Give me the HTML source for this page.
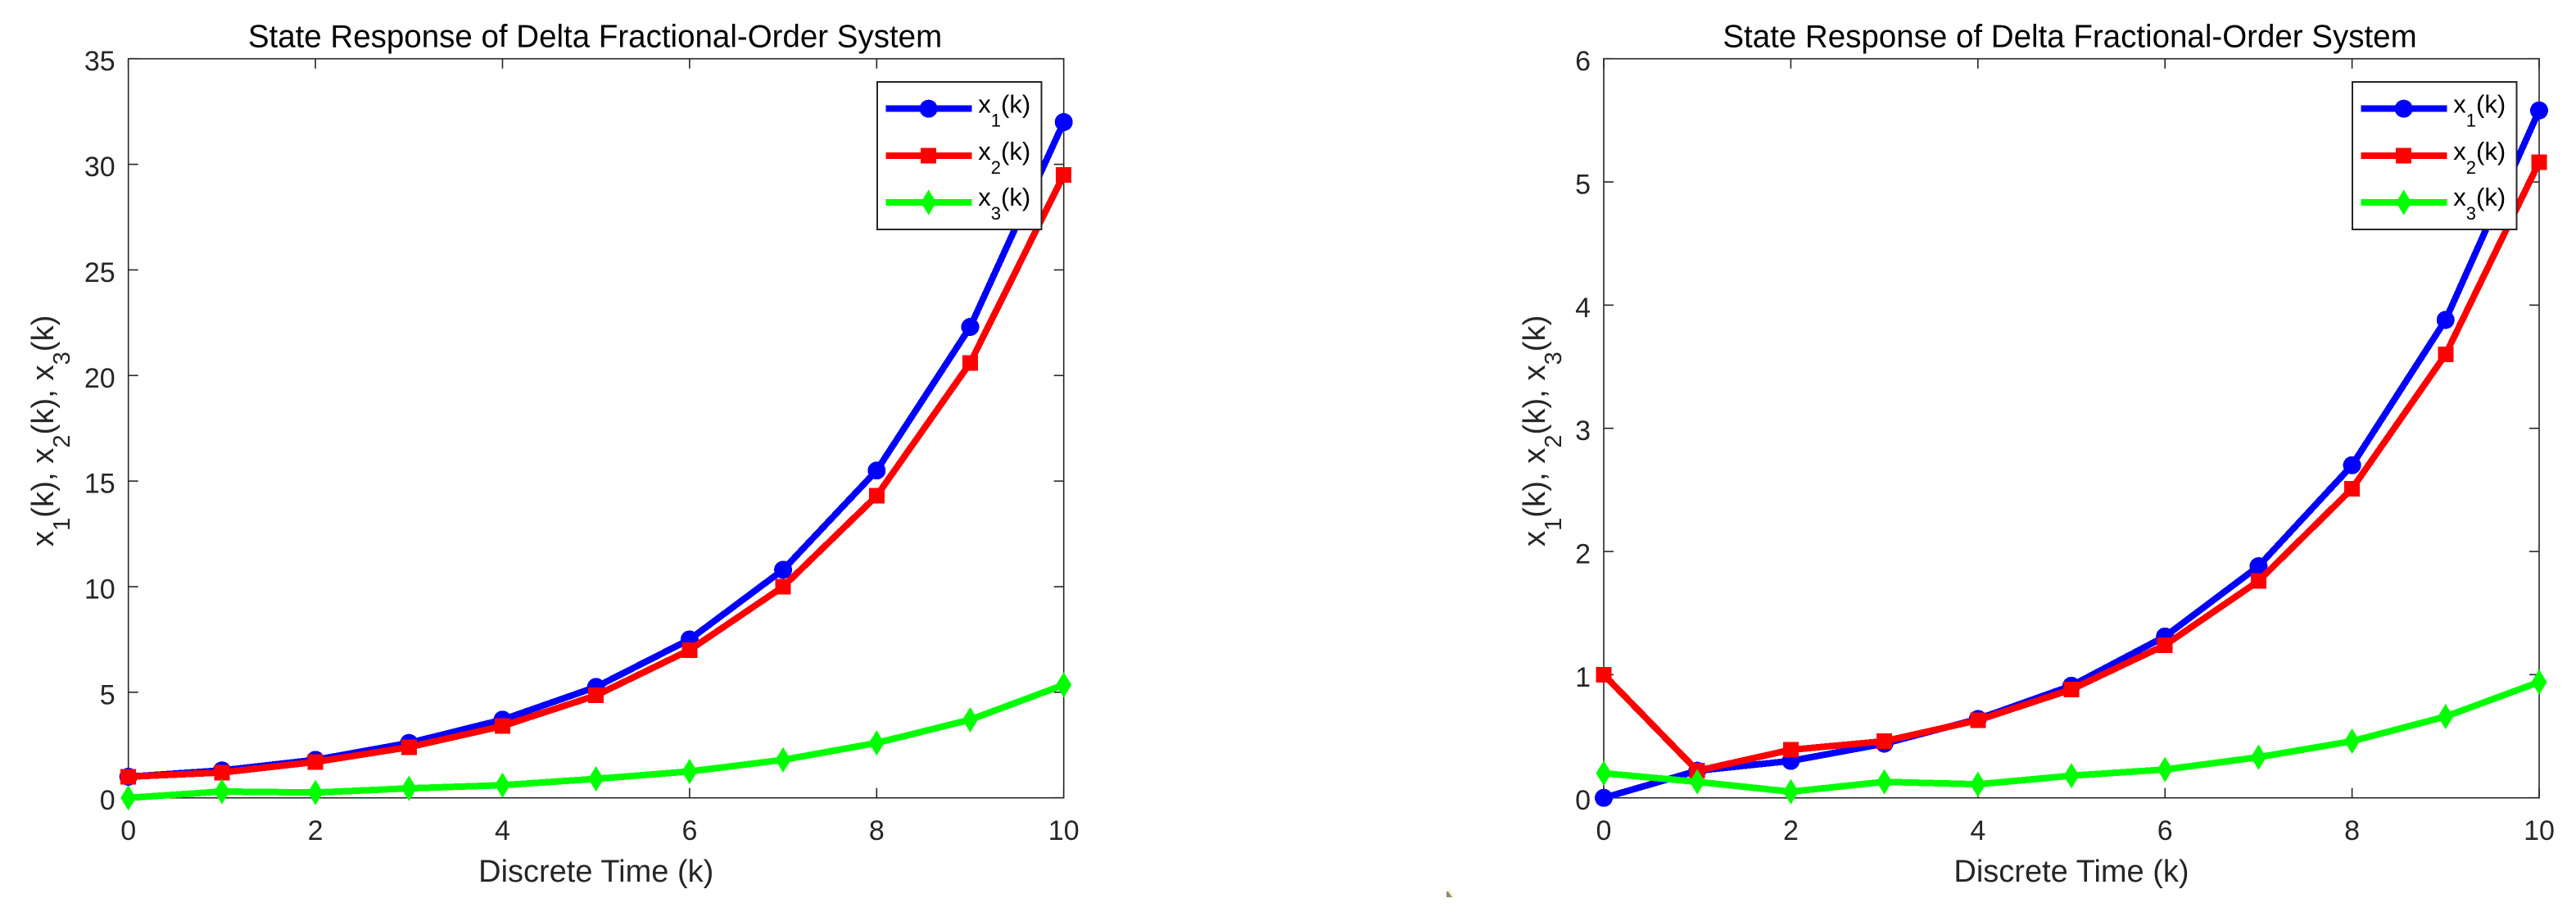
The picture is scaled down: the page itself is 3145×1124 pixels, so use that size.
<!DOCTYPE html>
<html lang="en">
<head>
<meta charset="utf-8">
<title>State Response of Delta Fractional-Order System</title>
<style>
  html, body { margin: 0; padding: 0; background: #fff; }
  svg { display: block; }
  text { font-family: "Liberation Sans", Arial, sans-serif; }
  .tick { font-size: 34px; fill: #262626; }
  .title { font-size: 38.5px; fill: #000; }
  .xlab { font-size: 38px; fill: #262626; }
  .ylab { font-size: 38.3px; fill: #262626; }
  .ylab .sub { font-size: 29px; }
  .leg { font-size: 31px; fill: #000; }
  .leg .sub { font-size: 22px; }
</style>
</head>
<body>
<svg id="chart" xmlns="http://www.w3.org/2000/svg" width="3145" height="1124" viewBox="0 0 3145 1124">
  <rect x="0" y="0" width="3145" height="1124" fill="#ffffff"/>

  <g id="left-plot">
    <text class="title" x="726.5" y="57.5" text-anchor="middle">State Response of Delta Fractional-Order System</text>
    <text class="xlab" x="727.7" y="1076" text-anchor="middle">Discrete Time (k)</text>
    <text class="ylab" transform="translate(65 667) rotate(-90)">x<tspan class="sub" dy="20">1</tspan><tspan dy="-20">(k), x</tspan><tspan class="sub" dy="20">2</tspan><tspan dy="-20">(k), x</tspan><tspan class="sub" dy="20">3</tspan><tspan dy="-20">(k)</tspan></text>
  </g>

  <g id="right-plot">
    <text class="title" x="2527" y="57.5" text-anchor="middle">State Response of Delta Fractional-Order System</text>
    <text class="xlab" x="2529" y="1076" text-anchor="middle">Discrete Time (k)</text>
    <text class="ylab" transform="translate(1886 667) rotate(-90)">x<tspan class="sub" dy="20">1</tspan><tspan dy="-20">(k), x</tspan><tspan class="sub" dy="20">2</tspan><tspan dy="-20">(k), x</tspan><tspan class="sub" dy="20">3</tspan><tspan dy="-20">(k)</tspan></text>
  </g>

  <g>
    <polygon points="1765,1084 1771,1085 1777,1095 1773,1096" fill="#fff8d8"/>
    <polygon points="1766,1088 1768,1088 1773,1095 1766,1095" fill="#8a8a80"/>
  </g>
</svg>

<script>
// ---- data ----
const categories = [0, 1, 2, 3, 4, 5, 6, 7, 8, 9, 10];
const xTickLabels = [0, 2, 4, 6, 8, 10];

const leftX1 = [1.0, 1.3, 1.8, 2.6, 3.7, 5.25, 7.5, 10.8, 15.5, 22.3, 32.0];
const leftX2 = [1.0, 1.2, 1.7, 2.4, 3.4, 4.85, 7.0, 10.0, 14.3, 20.6, 29.5];
const leftX3 = [0.0, 0.3, 0.25, 0.45, 0.6, 0.9, 1.25, 1.8, 2.6, 3.7, 5.35];
const leftYTicks = [0, 5, 10, 15, 20, 25, 30, 35];

const rightX1 = [0.0, 0.22, 0.3, 0.44, 0.64, 0.91, 1.31, 1.88, 2.7, 3.88, 5.58];
const rightX2 = [1.0, 0.22, 0.39, 0.46, 0.63, 0.88, 1.24, 1.76, 2.51, 3.6, 5.16];
const rightX3 = [0.2, 0.13, 0.05, 0.13, 0.11, 0.18, 0.23, 0.33, 0.46, 0.66, 0.94];
const rightYTicks = [0, 1, 2, 3, 4, 5, 6];

const seriesNames = ['x1', 'x2', 'x3'];
const seriesColors = ['#0000ff', '#ff0000', '#00ff00'];

// ---- drawing ----
const SVG_NS = 'http://www.w3.org/2000/svg';
const AXIS_COLOR = '#262626';

function make(tag, parent, attrs) {
  const el = document.createElementNS(SVG_NS, tag);
  for (const key in attrs) {
    el.setAttribute(key, attrs[key]);
  }
  parent.appendChild(el);
  return el;
}

function drawMarker(parent, shape, cx, cy, color) {
  let el;
  if (shape === 0) {
    el = make('circle', parent, { cx: cx, cy: cy, r: 11, fill: color });
  } else if (shape === 1) {
    el = make('rect', parent, { x: cx - 9.5, y: cy - 9.5, width: 19, height: 19, fill: color });
  } else {
    const pts = [[cx, cy - 15.5], [cx + 9.5, cy], [cx, cy + 15.5], [cx - 9.5, cy]];
    el = make('polygon', parent, { points: pts.map(p => p.join(',')).join(' '), fill: color });
  }
  el.setAttribute('shape-rendering', 'crispEdges');
  
  
  return el;
}

function drawPlot(group, box, yMax, yTicks, series, legendX) {
  const xScale = v => box.left + (v - 0) / 10 * (box.right - box.left);
  const yScale = v => box.bottom - v / yMax * (box.bottom - box.top);

  const axes = make('g', group, {});
  
  

  const frame = make('rect', axes, {
    x: box.left, y: box.top, width: box.right - box.left, height: box.bottom - box.top,
    fill: 'none', stroke: AXIS_COLOR, 'stroke-width': 1.6
  });
  
  

  xTickLabels.forEach(t => {
    const x = xScale(t);
    [[box.bottom, box.bottom - 12], [box.top, box.top + 12]].forEach(p => {
      const line = make('line', axes, { x1: x, x2: x, y1: p[0], y2: p[1], stroke: AXIS_COLOR, 'stroke-width': 1.6 });
      
      
    });
    const label = make('text', axes, { x: x, y: 1025, 'text-anchor': 'middle', class: 'tick' });
    label.textContent = String(t);
    
    
  });

  yTicks.forEach(t => {
    const y = yScale(t);
    [[box.left, box.left + 12], [box.right, box.right - 12]].forEach(p => {
      const line = make('line', axes, { x1: p[0], x2: p[1], y1: y, y2: y, stroke: AXIS_COLOR, 'stroke-width': 1.6 });
      
      
    });
    const label = make('text', axes, { x: box.left - 16, y: y + 14.5, 'text-anchor': 'end', class: 'tick' });
    label.textContent = String(t);
    
    
  });

  series.forEach((values, s) => {
    const g = make('g', group, {});
    
    
    const pts = values.map((v, i) => xScale(categories[i]) + ',' + yScale(v)).join(' ');
    const line = make('polyline', g, {
      points: pts, fill: 'none', stroke: seriesColors[s], 'stroke-width': 8,
      'stroke-linejoin': 'round', 'shape-rendering': 'crispEdges'
    });
    
    
    values.forEach((v, i) => drawMarker(g, s, xScale(categories[i]), yScale(v), seriesColors[s]));
  });

  // legend
  const legend = make('g', group, {});
  
  
  const legendBox = make('rect', legend, {
    x: legendX, y: 100, width: 200.5, height: 180,
    fill: '#ffffff', stroke: AXIS_COLOR, 'stroke-width': 2
  });
  
  

  const rowY = [132.7, 190, 247];
  const textY = [137.3, 195, 251];
  seriesNames.forEach((name, s) => {
    const row = make('g', legend, {});
    
    
    const swatch = make('line', row, {
      x1: legendX + 10.3, x2: legendX + 115.3, y1: rowY[s], y2: rowY[s],
      stroke: seriesColors[s], 'stroke-width': 8, 'shape-rendering': 'crispEdges'
    });
    
    
    drawMarker(row, s, legendX + 62.7, rowY[s], seriesColors[s]);
    const label = make('text', row, { x: legendX + 123.3, y: textY[s], class: 'leg' });
    
    
    const t1 = make('tspan', label, {});
    t1.textContent = 'x';
    const t2 = make('tspan', label, { class: 'sub', dy: 17 });
    t2.textContent = String(s + 1);
    const t3 = make('tspan', label, { dy: -17 });
    t3.textContent = '(k)';
  });
}

drawPlot(
  document.getElementById('left-plot'),
  { left: 156.7, right: 1298.7, top: 71.7, bottom: 973.7 },
  35, leftYTicks, [leftX1, leftX2, leftX3], 1071
);
drawPlot(
  document.getElementById('right-plot'),
  { left: 1958, right: 3100, top: 71.7, bottom: 973.7 },
  6, rightYTicks, [rightX1, rightX2, rightX3], 2872
);
</script>
</body>
</html>
